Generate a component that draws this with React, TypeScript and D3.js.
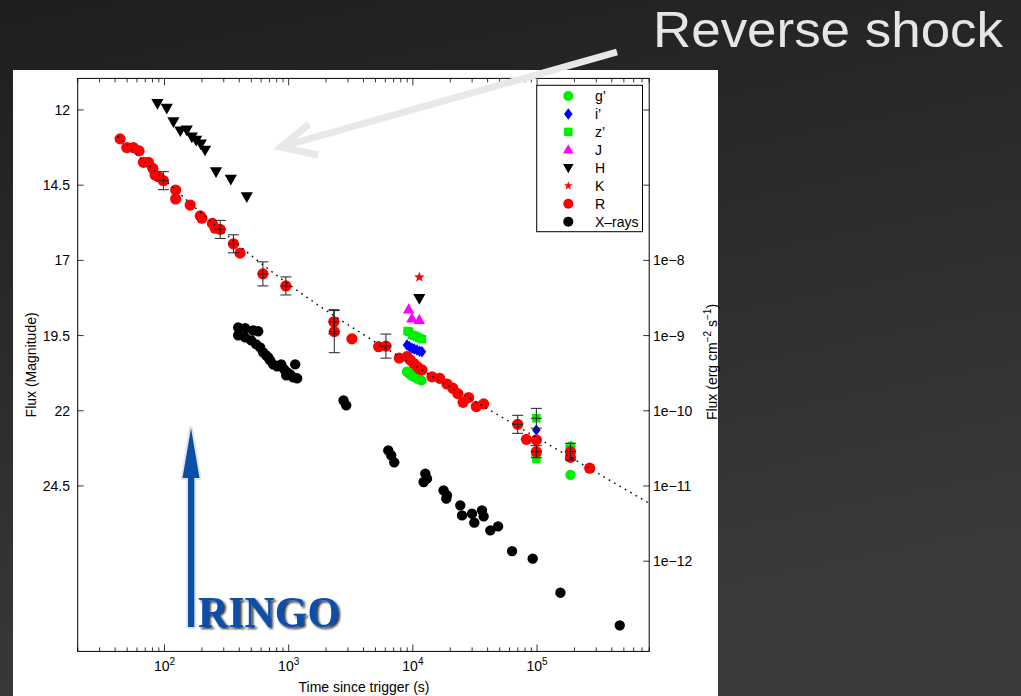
import React from 'react';
import * as d3 from 'd3';

const W = 1021;
const H = 696;

// ---- data (time in s, magnitude) ----
const rTime = [43.9, 49.7, 56.1, 62.4, 67.6, 74.2, 80.5, 84.0, 89.3, 98, 123, 123, 161, 194, 200, 243, 256, 281, 359, 406, 620, 949, 2310, 2330, 3230, 5300, 6070, 7770, 8960, 9530, 10130, 10800, 11270, 11840, 14250, 16410, 18830, 20980, 23020, 25360, 28120, 32430, 37150, 69830, 82040, 98700, 98700, 185800, 185800, 265400];
const rMag = [12.96, 13.25, 13.25, 13.36, 13.74, 13.74, 13.94, 14.16, 14.22, 14.35, 14.66, 14.96, 15.16, 15.52, 15.60, 15.77, 15.93, 15.97, 16.45, 16.76, 17.45, 17.85, 19.04, 19.37, 19.61, 19.87, 19.85, 20.25, 20.20, 20.31, 20.42, 20.53, 20.61, 20.64, 20.87, 20.92, 21.11, 21.25, 21.43, 21.72, 21.56, 21.86, 21.77, 22.45, 22.95, 22.97, 23.36, 23.36, 23.55, 23.91];
const rErr = [0, 0, 0, 0, 0, 0, 0, 0, 0, 0.3, 0, 0, 0, 0, 0, 0, 0, 0.3, 0.3, 0, 0.4, 0.3, 0.4, 0.7, 0, 0, 0.4, 0, 0, 0, 0, 0, 0, 0, 0, 0, 0, 0, 0, 0, 0, 0, 0, 0.3, 0, 0, 0.2, 0.28, 0, 0];

const gTime = [8960, 9350, 9830, 10260, 10790, 11270, 11700, 98700, 185800, 185800];
const gMag = [20.70, 20.76, 20.84, 20.87, 20.92, 20.95, 20.99, 23.47, 23.19, 24.13];

const iTime = [8960, 9350, 9830, 10260, 10790, 11330, 11840, 98700];
const iMag = [19.81, 19.86, 19.92, 19.95, 19.98, 20.02, 20.04, 22.64];

const zTime = [9060, 9350, 9830, 10260, 10790, 11270, 11840, 98700, 98700, 185800];
const zMag = [19.35, 19.38, 19.48, 19.50, 19.54, 19.58, 19.62, 22.25, 23.60, 23.24];
const zErr = [0, 0, 0, 0, 0, 0, 0, 0.33, 0, 0];

const jTime = [9250, 9830, 11270];
const jMag = [18.63, 18.93, 18.98];

const hTime = [87.7, 104.3, 118, 134, 151, 166, 180, 196, 212, 260, 342, 460, 11270];
const hMag = [11.78, 11.94, 12.39, 12.69, 12.66, 12.89, 13.00, 13.13, 13.33, 14.05, 14.30, 14.88, 18.26];

const kTime = [11270];
const kMag = [17.56];

// X-rays: time (s), flux (erg cm^-2 s^-1), right axis
const xTime = [392, 446, 517, 568, 392, 446, 499, 547, 589, 623, 659, 684, 709, 750, 807, 870, 920, 973, 1029, 1087, 1171, 1128, 955, 2765, 2905, 6340, 6700, 7080, 12590, 12200, 12990, 17670, 18820, 18580, 24090, 24870, 29950, 31240, 36030, 37130, 42060, 48530, 62930, 92240, 154200, 463400];
const xFlux = [1.28e-9, 1.25e-9, 1.17e-9, 1.14e-9, 1.01e-9, 9.46e-10, 8.63e-10, 7.64e-10, 6.97e-10, 5.98e-10, 5.46e-10, 5.13e-10, 4.68e-10, 4.14e-10, 3.89e-10, 4.14e-10, 3.55e-10, 3.24e-10, 3.05e-10, 2.78e-10, 2.70e-10, 4.14e-10, 2.96e-10, 1.37e-10, 1.18e-10, 2.97e-11, 2.55e-11, 2.06e-11, 1.46e-11, 1.13e-11, 1.25e-11, 8.75e-12, 7.51e-12, 6.78e-12, 5.52e-12, 4.06e-12, 4.28e-12, 3.25e-12, 4.74e-12, 3.94e-12, 2.57e-12, 2.90e-12, 1.36e-12, 1.08e-12, 3.81e-13, 1.40e-13];

// broken power-law model (dotted line) parameters
const modelEarlyMag100 = 14.37; // mag at 100 s
const modelEarlySlope = 3.914; // mag per decade
const modelLateMag1e4 = 20.49; // mag at 1e4 s
const modelLateSlope = 2.41;
const modelSharp = 2;
const modelStart = 42;

// ticks
const xMajorTicks = [1e2, 1e3, 1e4, 1e5];
const xTickExp = ['2', '3', '4', '5'];
const magTicks = [12, 14.5, 17, 19.5, 22, 24.5];
const magTickLabels = ['12', '14.5', '17', '19.5', '22', '24.5'];
const fluxTicks = [1e-6, 1e-7, 1e-8, 1e-9, 1e-10, 1e-11, 1e-12];
const fluxTickLabels = ['', '', '1e−8', '1e−9', '1e−10', '1e−11', '1e−12'];

const legendLabels = ['g’', 'i’', 'z’', 'J', 'H', 'K', 'R', 'X–rays'];
const legendShapes = ['circle', 'diamond', 'square', 'triUp', 'triDown', 'star', 'circle', 'circle'];
const legendColors = ['#00ee00', '#0000ff', '#00ee00', '#ff00ff', '#000000', '#ff0000', '#ff0000', '#000000'];

const titleText = 'Reverse shock';
const xAxisLabel = 'Time since trigger (s)';
const yAxisLabel = 'Flux (Magnitude)';
const ringoText = 'RINGO';

const FONT = "'Liberation Sans', Arial, Helvetica, sans-serif";

const X0 = 77.7, X1 = 649.2, Y0 = 78.4, Y1 = 651.4;
const MAG_TOP = 10.95, MAG_BOTTOM = 30;

function shapePath(shape: string, cx: number, cy: number, r: number): string {
  switch (shape) {
    case 'diamond':
      return `M${cx},${cy - r * 1.15}L${cx + r * 0.85},${cy}L${cx},${cy + r * 1.15}L${cx - r * 0.85},${cy}Z`;
    case 'square':
      return `M${cx - r * 0.85},${cy - r * 0.85}h${r * 1.7}v${r * 1.7}h${-r * 1.7}Z`;
    case 'triUp':
      return `M${cx},${cy - r * 1.1}L${cx + r * 1.05},${cy + r * 0.75}L${cx - r * 1.05},${cy + r * 0.75}Z`;
    case 'triDown':
      return `M${cx},${cy + r * 1.1}L${cx + r * 1.05},${cy - r * 0.75}L${cx - r * 1.05},${cy - r * 0.75}Z`;
    case 'star': {
      let d = '';
      for (let k = 0; k < 10; k++) {
        const a = -Math.PI / 2 + (k * Math.PI) / 5;
        const rr = k % 2 === 0 ? r : r * 0.42;
        d += (k === 0 ? 'M' : 'L') + (cx + rr * Math.cos(a)).toFixed(2) + ',' + (cy + rr * Math.sin(a)).toFixed(2);
      }
      return d + 'Z';
    }
    default:
      return `M${cx - r},${cy}a${r},${r} 0 1,0 ${2 * r},0a${r},${r} 0 1,0 ${-2 * r},0Z`;
  }
}

export default function App() {
  const x = d3.scaleLog().domain([20, 8e5]).range([X0, X1]);
  const y = d3.scaleLinear().domain([MAG_TOP, MAG_BOTTOM]).range([Y0, Y1]);
  const magToFlux = (m: number) => 1e-8 * Math.pow(10, -(m - 17) / 2.5);
  const yF = d3.scaleLog().domain([magToFlux(MAG_TOP), magToFlux(MAG_BOTTOM)]).range([Y0, Y1]);

  const model = (t: number) => {
    const m1 = modelEarlyMag100 + modelEarlySlope * Math.log10(t / 100);
    const m2 = modelLateMag1e4 + modelLateSlope * Math.log10(t / 1e4);
    const f = Math.pow(Math.pow(10, -0.4 * m1 * modelSharp) + Math.pow(10, -0.4 * m2 * modelSharp), 1 / modelSharp);
    return -2.5 * Math.log10(f);
  };
  const ts = d3.range(0, 301).map((k) => modelStart * Math.pow(8e5 / modelStart, k / 300));
  const linePath = d3.line<number>().x((t) => x(t)).y((t) => y(model(t)))(ts) || '';

  const minorTicks: number[] = [];
  for (let e = 1; e <= 5; e++) {
    for (let m = 2; m <= 9; m++) {
      const v = m * Math.pow(10, e);
      if (v >= 20 && v <= 8e5) minorTicks.push(v);
    }
  }

  const series = (times: number[], mags: number[], shape: string, color: string, r: number, key: string) =>
    times.map((t, k) => (
      <path key={key + k} d={shapePath(shape, x(t), y(mags[k]), r)} fill={color} />
    ));

  const errBars = (times: number[], mags: number[], errs: number[], key: string) =>
    times.map((t, k) => {
      if (!errs[k]) return null;
      const cx = x(t);
      const ya = y(mags[k] - errs[k]);
      const yb = y(mags[k] + errs[k]);
      const cy = y(mags[k]);
      const c = 5.5;
      return (
        <g key={key + k} stroke="#222" strokeWidth={1} fill="none">
          <line x1={cx} x2={cx} y1={ya} y2={yb} />
          <line x1={cx - c} x2={cx + c} y1={ya} y2={ya} />
          <line x1={cx - c} x2={cx + c} y1={yb} y2={yb} />
          <line x1={cx - c} x2={cx + c} y1={cy} y2={cy} />
        </g>
      );
    });

  const legX = 536.7, legY = 85.3, legW = 105.8, legH = 146.4;

  return (
    <svg width={W} height={H} style={{ display: 'block', position: 'absolute', left: 0, top: 0 }} fontFamily={FONT}>
      <defs>
        <linearGradient id="bg" x1="0" y1="0" x2="0.3" y2="1">
          <stop offset="0" stopColor="#1e1e1e" />
          <stop offset="1" stopColor="#3a3a3a" />
        </linearGradient>
        <clipPath id="plotclip">
          <rect x={X0} y={Y0} width={X1 - X0} height={Y1 - Y0} />
        </clipPath>
        <filter id="shadow" x="-10%" y="-20%" width="130%" height="150%">
          <feDropShadow dx="2" dy="2" stdDeviation="1" floodColor="#111" floodOpacity="0.85" />
        </filter>
      </defs>
      <rect x={0} y={0} width={W} height={H} fill="url(#bg)" />
      <rect x={13} y={70} width={705} height={626} fill="#ffffff" />

      {/* markers */}
      <g clipPath="url(#plotclip)">
        {xTime.map((t, k) => (
          <path key={'x' + k} d={shapePath('circle', x(t), yF(xFlux[k]), 5.2)} fill="#000" />
        ))}
        {series(gTime, gMag, 'circle', '#00ee00', 5.2, 'g')}
        {series(iTime, iMag, 'diamond', '#0000ff', 5, 'i')}
        {series(zTime, zMag, 'square', '#00ee00', 5, 'z')}
        {series(rTime, rMag, 'circle', '#ff0000', 5.6, 'r')}
        {series(jTime, jMag, 'triUp', '#ff00ff', 5.5, 'j')}
        {series(hTime, hMag, 'triDown', '#000000', 5.8, 'h')}
        {series(kTime, kMag, 'star', '#ff0000', 5.5, 'k')}
        {errBars(rTime, rMag, rErr, 're')}
        {errBars(zTime, zMag, zErr, 'ze')}
        <path d={linePath} fill="none" stroke="#000" strokeWidth={1.4} strokeDasharray="1.6 4.6" />
      </g>

      {/* axes box */}
      <rect x={X0} y={Y0} width={X1 - X0} height={Y1 - Y0} fill="none" stroke="#000" strokeWidth={1} />
      {xMajorTicks.map((t) => (
        <g key={'xt' + t} stroke="#000" strokeWidth={0.8}>
          <line x1={x(t)} x2={x(t)} y1={Y1} y2={Y1 - 7} />
          <line x1={x(t)} x2={x(t)} y1={Y0} y2={Y0 + 7} />
        </g>
      ))}
      {minorTicks.map((t) => (
        <g key={'xm' + t} stroke="#000" strokeWidth={0.8}>
          <line x1={x(t)} x2={x(t)} y1={Y1} y2={Y1 - 4} />
          <line x1={x(t)} x2={x(t)} y1={Y0} y2={Y0 + 4} />
        </g>
      ))}
      {xMajorTicks.map((t, k) => (
        <text key={'xl' + t} x={x(t)} y={671} fontSize={14} textAnchor="middle" fill="#000">
          10<tspan dy={-6} fontSize={10}>{xTickExp[k]}</tspan>
        </text>
      ))}
      {magTicks.map((m, k) => (
        <g key={'yt' + m}>
          <line x1={X0} x2={X0 + 6} y1={y(m)} y2={y(m)} stroke="#000" strokeWidth={0.8} />
          <text x={70} y={y(m)} dy="0.36em" fontSize={14} textAnchor="end" fill="#000">
            {magTickLabels[k]}
          </text>
        </g>
      ))}
      {fluxTicks.map((f, k) => (
        <g key={'ft' + k}>
          <line x1={X1} x2={X1 - 6} y1={yF(f)} y2={yF(f)} stroke="#000" strokeWidth={0.8} />
          {fluxTickLabels[k] ? (
            <text x={653} y={yF(f)} dy="0.36em" fontSize={14} textAnchor="start" fill="#000">
              {fluxTickLabels[k]}
            </text>
          ) : null}
        </g>
      ))}

      {/* axis labels */}
      <text x={364} y={692} fontSize={14} textAnchor="middle" fill="#000">{xAxisLabel}</text>
      <text transform={`translate(36,${(Y0 + Y1) / 2}) rotate(-90)`} fontSize={14} textAnchor="middle" fill="#000">
        {yAxisLabel}
      </text>
      <text transform={`translate(717,362) rotate(-90)`} fontSize={14} textAnchor="middle" fill="#000">
        Flux (erg cm<tspan dy={-6} fontSize={10}>−2</tspan>
        <tspan dy={6}> s</tspan>
        <tspan dy={-6} fontSize={10}>−1</tspan>
        <tspan dy={6}>)</tspan>
      </text>

      {/* legend */}
      <rect x={legX} y={legY} width={legW} height={legH} fill="#fff" stroke="#000" strokeWidth={1} />
      {legendLabels.map((lab, k) => {
        const ly = 96 + k * 17.95;
        return (
          <g key={'lg' + k}>
            <path d={shapePath(legendShapes[k], 568.3, ly, legendShapes[k] === 'star' ? 4.5 : 5)} fill={legendColors[k]} />
            <text x={595} y={ly} dy="0.36em" fontSize={14} fill="#000">{lab}</text>
          </g>
        );
      })}

      {/* RINGO annotation */}
      <path
        d="M191,428 L199.5,478 L194.3,478 L194.3,627 L188,627 L188,478 L182.5,478 Z"
        fill="#0b4ea6"
        stroke="#e2e6ec"
        strokeWidth={4}
        paintOrder="stroke"
        strokeLinejoin="round"
      />
      <text
        x={198}
        y={627}
        fontFamily="'Liberation Serif', 'Times New Roman', serif"
        fontWeight="bold"
        fontSize={44}
        textLength={142}
        lengthAdjust="spacingAndGlyphs"
        fill="#0c4fa8"
        filter="url(#shadow)"
      >
        {ringoText}
      </text>

      {/* Reverse shock annotation */}
      <g stroke="#e8e8e8" strokeWidth={7} fill="none" strokeLinecap="butt" strokeLinejoin="miter">
        <line x1={617} y1={52} x2={284} y2={146} />
        <polyline points="309,124 281,147 318,155" />
      </g>
      <text x={653} y={47} fontSize={50} textLength={350} lengthAdjust="spacingAndGlyphs" fill="#e6e6e6">
        {titleText}
      </text>
    </svg>
  );
}
